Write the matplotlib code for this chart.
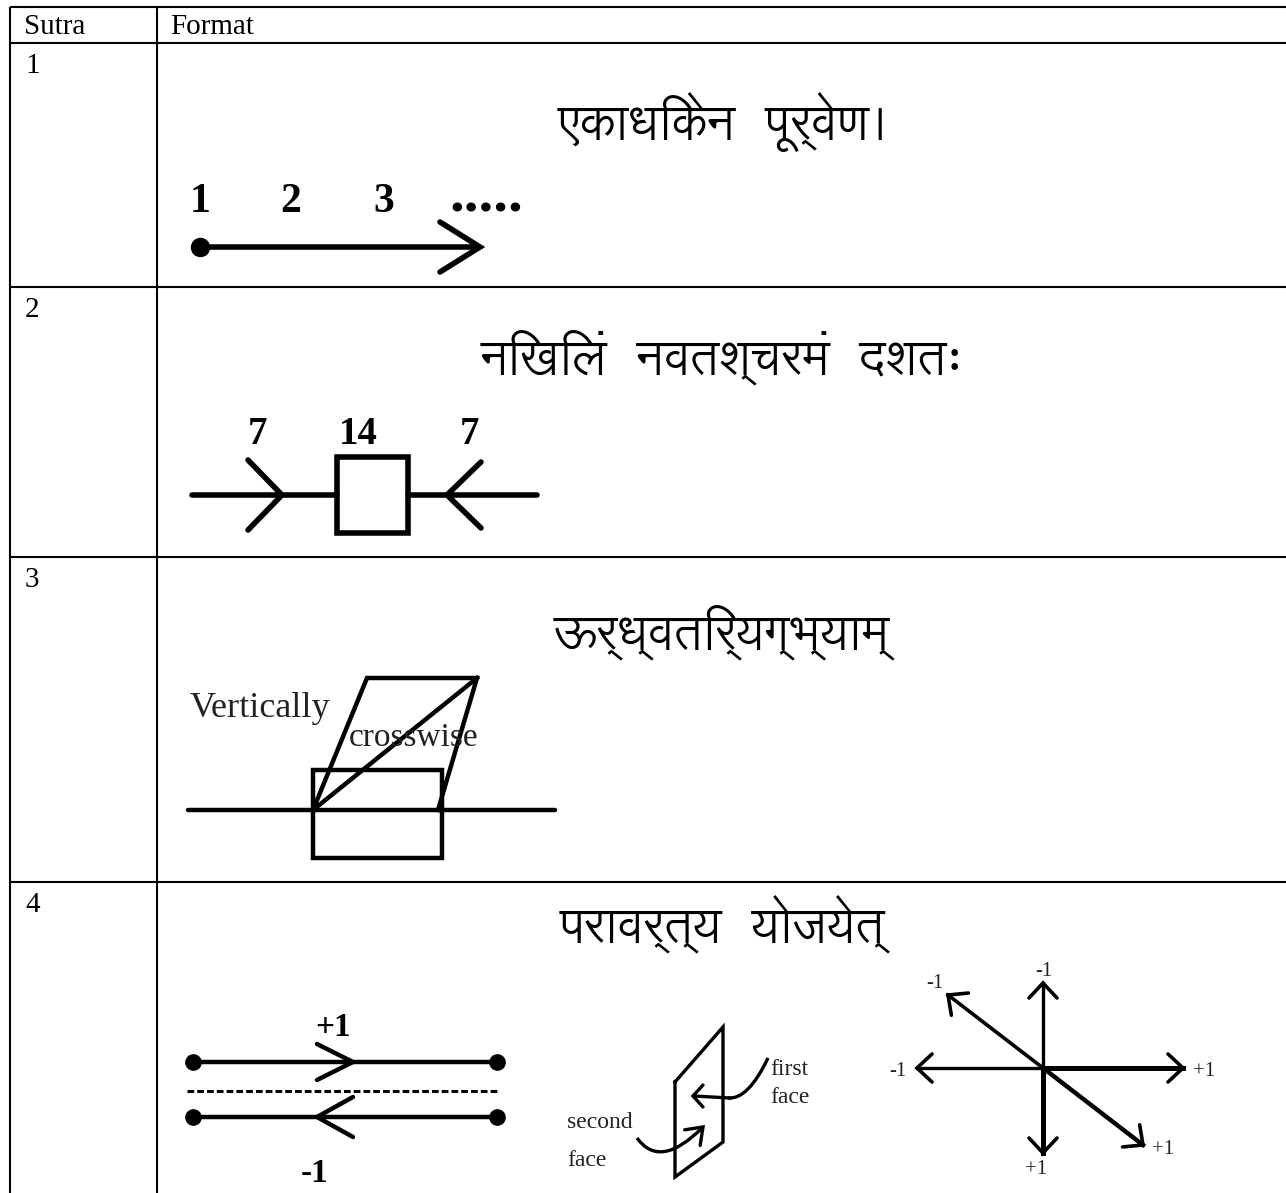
import matplotlib
matplotlib.use("Agg")
import matplotlib.pyplot as plt
from matplotlib.path import Path
from matplotlib.patches import PathPatch, Rectangle
import numpy as np

# ---------------- data ----------------
header = ["Sutra", "Format"]
sutra_numbers = ["1", "2", "3", "4"]
sutra_names = ["एकाधिकेन  पूर्वेण।", "निखिलं  नवतश्चरमं  दशतः", "ऊर्ध्वतिर्यग्भ्याम्", "परावर्त्य  योजयेत्"]
row1_labels = ["1", "2", "3", "....."]
row2_labels = ["7", "14", "7"]
row3_labels = ["Vertically", "crosswise"]
row4_line_labels = ["+1", "-1"]
row4_face_labels = ["first", "face", "second", "face"]
row4_axis_labels = ["+1", "-1", "-1", "+1", "-1", "+1"]  # right, left, up, down, up-left, down-right

deva_family = ["Lohit Devanagari", "Noto Sans Devanagari UI", "DejaVu Sans"]

W, H = 1286, 1193
fig = plt.figure(figsize=(W / 100, H / 100), dpi=100)
ax = fig.add_axes([0, 0, 1, 1])
ax.set_xlim(0, W)
ax.set_ylim(H, 0)
ax.axis("off")

SERIF = "Liberation Serif"
K = "black"
G = "#222222"

# ---------------- table grid ----------------
col_x = [10, 157, 1286]
row_y = [7, 43, 287, 557, 882, 1193]
tlw = 1.5
for y in row_y[:-1]:
    ax.plot([col_x[0], col_x[-1]], [y, y], color=K, lw=tlw, solid_capstyle="butt")
for x in col_x[:-1]:
    ax.plot([x, x], [row_y[0], row_y[-1]], color=K, lw=tlw, solid_capstyle="butt")

ax.text(24, 34, header[0], family=SERIF, fontsize=21, va="baseline", ha="left")
ax.text(170, 34, header[1], family=SERIF, fontsize=21, va="baseline", ha="left")
for i, n in enumerate(sutra_numbers):
    ax.text(25, row_y[i + 1] + 30, n, family=SERIF, fontsize=21, va="baseline", ha="left")

# ---------------- sutra names ----------------
name_y = [122, 357, 632, 925]
for s, y in zip(sutra_names, name_y):
    ax.text(722, y, s, family=deva_family, fontsize=35, ha="center", va="center")

def vhead(tip, direction, length=38, half=24, lw=4, color=K):
    d = np.array(direction, float)
    d /= np.linalg.norm(d)
    n = np.array([-d[1], d[0]])
    t = np.array(tip, float)
    base = t - d * length
    p1 = base + n * half
    p2 = base - n * half
    ax.plot([p1[0], t[0], p2[0]], [p1[1], t[1], p2[1]], color=color, lw=lw,
            solid_capstyle="round", solid_joinstyle="miter")

# ---------------- row 1 ----------------
lw1 = 4
ax.plot([200, 478], [247, 247], color=K, lw=lw1, solid_capstyle="butt")
ax.plot([200], [247], "o", color=K, ms=13)
vhead((480, 247), (1, 0), length=40, half=25, lw=lw1)
for lab, x in zip(row1_labels[:3], [200, 291, 384]):
    ax.text(x, 212, lab, family=SERIF, fontsize=30, fontweight="bold", ha="center", va="baseline")
ax.text(486, 212, row1_labels[3], family=SERIF, fontsize=42, fontweight="bold",
        ha="center", va="baseline")

# ---------------- row 2 ----------------
ax.plot([192, 337], [495, 495], color=K, lw=lw1, solid_capstyle="round")
ax.plot([408, 537], [495, 495], color=K, lw=lw1, solid_capstyle="round")
ax.add_patch(Rectangle((337, 457), 71, 76, fill=False, ec=K, lw=lw1))
vhead((282, 495), (1, 0), length=34, half=35, lw=lw1)
vhead((447, 495), (-1, 0), length=34, half=33, lw=lw1)
for lab, x in zip(row2_labels, [257, 358, 470]):
    ax.text(x, 444, lab, family=SERIF, fontsize=28, fontweight="bold", ha="center", va="baseline")

# ---------------- row 3 ----------------
lw3 = 3.2
ax.plot([188, 555], [810, 810], color=K, lw=lw3, solid_capstyle="round")
ax.add_patch(Rectangle((313, 770), 129, 88, fill=False, ec=K, lw=lw3))
ax.plot([313, 367, 477, 438], [810, 678, 678, 810], color=K, lw=lw3,
        solid_joinstyle="miter")
ax.plot([313, 477], [810, 678], color=K, lw=lw3)
ax.text(190, 717, row3_labels[0], family=SERIF, fontsize=26, ha="left", va="baseline",
        color=G)
ax.text(349, 746, row3_labels[1], family=SERIF, fontsize=24, ha="left", va="baseline",
        color=G)

# ---------------- row 4 : parallel lines ----------------
lw4 = 3.2
ax.plot([193, 497], [1062, 1062], color=K, lw=lw4)
ax.plot([193, 497], [1117, 1117], color=K, lw=lw4)
ax.plot([193, 497, 193, 497], [1062, 1062, 1117, 1117], "o", color=K, ms=11)
ax.plot([187, 497], [1091, 1091], color=K, lw=2.2, ls=(0, (2.2, 1.0)))
vhead((353, 1062), (1, 0), length=36, half=18, lw=lw4)
vhead((317, 1117), (-1, 0), length=36, half=20, lw=lw4)
ax.text(333, 1036, row4_line_labels[0], family=SERIF, fontsize=24, fontweight="bold",
        ha="center", va="baseline")
ax.text(315, 1182, row4_line_labels[1], family=SERIF, fontsize=24, fontweight="bold",
        ha="center", va="baseline")

# ---------------- row 4 : plane ----------------
lwp = 2.4
ax.plot([675, 723, 723, 675, 675], [1082, 1027, 1142, 1177, 1082], color=K, lw=lwp,
        solid_joinstyle="miter")
# first-face curve
pth = Path([(768, 1058), (748, 1100), (728, 1098)], [Path.MOVETO, Path.CURVE3, Path.CURVE3])
ax.add_patch(PathPatch(pth, fill=False, ec=K, lw=lwp))
ax.plot([730, 694], [1098, 1096], color=K, lw=lwp)
vhead((693, 1096), (-1, 0), length=10, half=11, lw=lwp)
# second-face curve
pth2 = Path([(637, 1138), (660, 1170), (702, 1128)], [Path.MOVETO, Path.CURVE3, Path.CURVE3])
ax.add_patch(PathPatch(pth2, fill=False, ec=K, lw=lwp))
vhead((703, 1127), (1, -1), length=15, half=11, lw=lwp)
fs_face = 17
ax.text(770, 1075, row4_face_labels[0], family=SERIF, fontsize=fs_face, ha="left", va="baseline", color=G)
ax.text(770, 1103, row4_face_labels[1], family=SERIF, fontsize=fs_face, ha="left", va="baseline", color=G)
ax.text(567, 1128, row4_face_labels[2], family=SERIF, fontsize=fs_face, ha="left", va="baseline", color=G)
ax.text(567, 1166, row4_face_labels[3], family=SERIF, fontsize=fs_face, ha="left", va="baseline", color=G)

# ---------------- row 4 : axes ----------------
cx, cy = 1043, 1068
ends = [(1183, 1068), (917, 1068), (1043, 983), (1043, 1153), (948, 995), (1143, 1145)]
widths = [3.6, 2.4, 2.4, 3.6, 2.6, 3.2]
for (ex, ey), lwa in zip(ends, widths):
    ax.plot([cx, ex], [cy, ey], color=K, lw=lwa)
    vhead((ex, ey), (ex - cx, ey - cy), length=15, half=14, lw=2.6)
lab_pos = [(1193, 1071), (907, 1071), (1044, 971), (1036, 1170), (935, 984), (1152, 1149)]
has = ["left", "right", "center", "center", "center", "left"]
for lab, (x, y), h in zip(row4_axis_labels, lab_pos, has):
    ax.text(x, y, lab, family=SERIF, fontsize=15, ha=h, va="center", color=G)

fig.savefig("out.png", dpi=100)
